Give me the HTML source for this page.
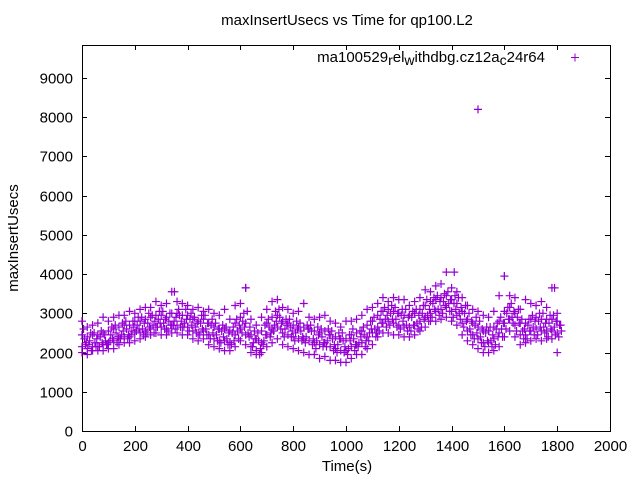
<!DOCTYPE html>
<html><head><meta charset="utf-8"><style>
body{margin:0;background:#fff;}
svg{display:block;font-family:"Liberation Sans",sans-serif;}
</style></head><body>
<svg id="chart" width="640" height="480">
<rect x="0" y="0" width="640" height="480" fill="#fff"/>
<text x="347" y="25" font-size="15" text-anchor="middle">maxInsertUsecs vs Time for qp100.L2</text>
<text x="0" y="0" font-size="15" text-anchor="middle" transform="translate(18,238) rotate(-90)">maxInsertUsecs</text>
<text x="347" y="471" font-size="15" text-anchor="middle">Time(s)</text>
<g id="axes"></g>
<g id="points"></g>
<g>
<text x="545" y="62" font-size="15" text-anchor="end">ma100529<tspan font-size="14" dy="3">r</tspan><tspan dy="-3">el</tspan><tspan font-size="14" dy="3">w</tspan><tspan dy="-3">ithdbg.cz12a</tspan><tspan font-size="14" dy="3">c</tspan><tspan dy="-3">24r64</tspan></text>
<path d="M571 57.5h8M575 53.5v8" stroke="#9400d3" stroke-width="1"/>
</g>
</svg>
<script>
const times=[0,20,40,60,80,100,120,140,160,180,200,220,240,260,280,300,320,340,360,380,400,420,440,460,480,500,520,540,560,580,600,620,640,660,680,700,720,740,760,780,800,820,840,860,880,900,920,940,960,980,1000,1020,1040,1060,1080,1100,1120,1140,1160,1180,1200,1220,1240,1260,1280,1300,1320,1340,1360,1380,1400,1420,1440,1460,1480,1500,1520,1540,1560,1580,1600,1620,1640,1660,1680,1700,1720,1740,1760,1780,1800];
const hiVals=[2800,2650,2700,2750,2900,2800,2900,2950,2950,3050,3000,3100,3150,3150,3300,3200,3250,3550,3300,3250,3200,3100,3150,3050,3100,3000,2950,3100,2850,3200,3250,3650,2850,2700,2900,3100,3300,3350,3150,3100,3000,3050,3250,2900,2850,2900,2950,2800,2750,2650,2800,2800,2850,2950,3100,3150,3250,3400,3300,3400,3350,3350,3200,3300,3400,3600,3550,3700,3750,4050,3650,3550,3400,3200,3100,3050,2950,2900,3050,3450,3950,3450,3400,3100,3350,3250,3200,3300,3150,3650,3000];
const upVals=[2450,2400,2450,2450,2500,2550,2600,2650,2700,2700,2800,2800,2850,2900,2950,2950,2900,3000,3000,2950,2950,2850,2800,2850,2750,2650,2600,2600,2550,2750,2900,2750,2450,2350,2550,2750,2900,2950,2800,2750,2700,2650,2650,2600,2550,2500,2550,2450,2400,2350,2350,2450,2500,2550,2700,2800,2950,3050,3100,3050,3000,2950,2950,3000,3100,3200,3300,3350,3400,3450,3350,3250,3050,2850,2750,2650,2550,2550,2650,2800,3050,3150,3000,2750,2750,2850,2900,2850,2850,2850,2800];
const lowVals=[2150,2100,2150,2150,2200,2250,2300,2350,2400,2400,2500,2500,2550,2600,2650,2650,2600,2700,2700,2650,2650,2550,2500,2550,2450,2350,2300,2300,2250,2450,2600,2450,2150,2050,2250,2450,2600,2650,2500,2450,2400,2350,2350,2300,2250,2200,2250,2150,2100,2050,2050,2150,2200,2250,2400,2500,2650,2750,2800,2750,2700,2650,2650,2700,2800,2900,3000,3050,3100,3150,3050,2950,2750,2550,2450,2350,2250,2250,2350,2500,2750,2850,2700,2450,2450,2550,2600,2550,2550,2550,2500];
const loVals=[2000,1950,2050,2050,2050,2100,2100,2200,2250,2250,2300,2350,2400,2450,2500,2450,2450,2500,2500,2450,2450,2350,2300,2350,2200,2150,2100,2050,2050,2150,2300,2200,2000,1950,2000,2150,2250,2350,2200,2150,2100,2050,2000,1950,1950,1850,1900,1800,1800,1750,1750,1850,1950,1950,2100,2200,2400,2500,2500,2450,2450,2400,2400,2450,2550,2650,2800,2800,2850,2900,2800,2700,2450,2300,2200,2100,2000,2000,2050,2150,2400,2550,2400,2200,2250,2300,2350,2300,2350,2350,2000];
const scatterAVals=[2600,2200,2500,2150,2450,2300,2700,2350,2800,2450,2550,2900,2500,2950,2650,3050,2550,2700,3100,2650,2550,2900,2450,2950,2350,2750,2250,2650,2200,2850,2500,3050,2150,2500,2200,2850,2550,3100,2400,2850,2300,2750,2250,2700,2100,2600,2150,2550,2000,2500,1950,2600,2150,2650,2300,2900,2550,3150,2700,3150,2600,3100,2550,3100,2650,3350,2900,3450,3000,3550,2900,3400,2650,3000,2350,2800,2150,2650,2200,2900,2600,3250,2550,2850,2350,2950,2450,3000,2400,2950,2400];
const scatterBVals=[2200,2500,2150,2550,2200,2650,2250,2750,2350,2800,2900,2450,3000,2500,3050,2600,3000,2600,2650,3100,3000,2500,2950,2450,2850,2300,2700,2200,2650,2350,3000,2400,2550,1950,2700,2400,3050,2600,2850,2400,2800,2300,2700,2200,2650,2150,2600,2050,2500,2000,2450,2050,2550,2150,2800,2400,3050,2650,3200,2650,3100,2550,3050,2600,3200,2800,3400,2950,3500,3050,3450,2850,3200,2450,2900,2250,2650,2150,2750,2400,3150,2750,3100,2350,2850,2450,3000,2500,2950,2450,2700];
const scatterCVals=[2350,2300,2250,2400,2300,2450,2500,2450,2600,2550,2700,2600,2750,2700,2850,2750,2800,2800,2950,2750,2850,2650,2750,2600,2700,2450,2550,2350,2500,2550,2800,2500,2250,2300,2300,2650,2700,2900,2600,2650,2500,2550,2400,2550,2300,2400,2300,2350,2200,2300,2100,2350,2250,2450,2500,2600,2850,2850,3000,2850,2950,2700,2900,2750,3000,2950,3250,3100,3300,3250,3250,3000,3000,2600,2700,2400,2500,2300,2600,2600,3000,2900,2900,2550,2700,2650,2800,2650,2750,2650,2700];
const scatterDVals=[2250,2050,2350,2250,2200,2350,2400,2550,2450,2650,2600,2750,2650,2800,2750,2850,2700,2900,2800,2850,2700,2750,2600,2750,2500,2600,2400,2500,2300,2700,2650,2650,2350,2100,2450,2500,2800,2750,2700,2550,2600,2400,2600,2350,2450,2250,2450,2200,2350,2150,2300,2200,2400,2300,2600,2500,2750,2950,2850,3000,2800,2900,2700,2950,2850,3100,3100,3300,3200,3350,3100,3150,2800,2800,2500,2600,2300,2450,2400,2750,2850,3050,2750,2600,2550,2800,2650,2750,2600,2800,2550];
const outlierTimes=[1500,1410,1600,1790,620,350];
const outlierVals=[8200,4050,3950,3650,3650,3550];
const xTicks=[0,200,400,600,800,1000,1200,1400,1600,1800,2000];
const yTicks=[0,1000,2000,3000,4000,5000,6000,7000,8000,9000];

const L=82,R=610,T=45,B=431;
const xs=v=>L+(v/2000)*(R-L);
const ys=v=>B-(v/9000)*(B-78);
const NS="http://www.w3.org/2000/svg";
const axes=document.getElementById('axes');
const pts=document.getElementById('points');
function mk(tag,attrs,parent){const e=document.createElementNS(NS,tag);for(const k in attrs)e.setAttribute(k,attrs[k]);parent.appendChild(e);return e;}
const frame=mk('rect',{x:L+0.5,y:T+0.5,width:R-L,height:B-T,fill:'none',stroke:'#000','stroke-width':1},axes);


xTicks.forEach(v=>{
  const x=Math.round(xs(v))+0.5;
  const t=mk('path',{d:`M${x} ${B}v-5M${x} ${T}v5`,stroke:'#000'},axes);
  
  
  const l=mk('text',{x:x,y:B+20,'font-size':15,'text-anchor':'middle'},axes);
  l.textContent=v;
  
  
});
yTicks.forEach(v=>{
  const y=Math.round(ys(v))+0.5;
  const t=mk('path',{d:`M${L} ${y}h5M${R} ${y}h-5`,stroke:'#000'},axes);
  
  
  const l=mk('text',{x:L-9,y:y+5,'font-size':15,'text-anchor':'end'},axes);
  l.textContent=v;
  
  
});
function plus(t,v){
  const x=xs(t),y=ys(v);
  const p=mk('path',{d:`M${x-4} ${y}h8M${x} ${y-4}v8`,stroke:'#9400d3','stroke-width':1.2},pts);
  
  
}
[hiVals,upVals,lowVals,loVals].forEach(arr=>{
  times.forEach((t,i)=>plus(t,arr[i]));
});
times.forEach((t,i)=>plus(t+6,scatterAVals[i]));
times.forEach((t,i)=>plus(t+13,scatterBVals[i]));
times.forEach((t,i)=>plus(t+9,scatterCVals[i]));
times.forEach((t,i)=>plus(t+16,scatterDVals[i]));
outlierTimes.forEach((t,i)=>plus(t,outlierVals[i]));
</script>
</body></html>
